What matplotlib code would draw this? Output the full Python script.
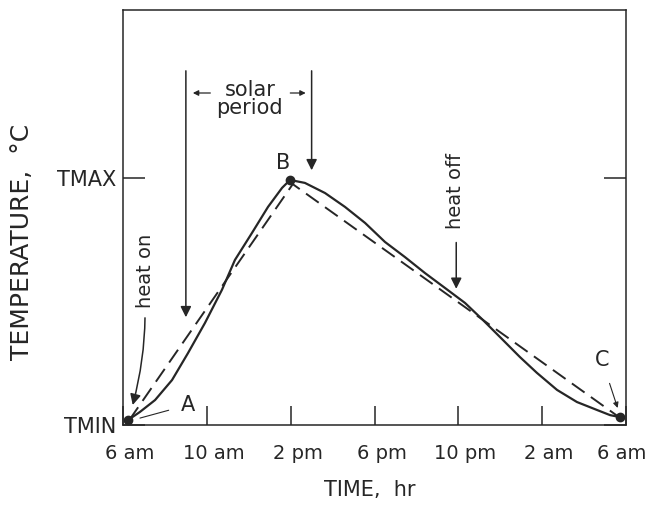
import numpy as np
import matplotlib
matplotlib.use("Agg")
import matplotlib.pyplot as plt
from matplotlib.transforms import ScaledTranslation

# data (hours after 6 am, temperature as fraction TMIN->TMAX)
solid_hr = [0.24, 0.81, 1.53, 2.34, 3.10, 3.91, 4.72, 5.34, 6.15, 6.92, 7.59, 7.97,
            8.68, 9.64, 10.59, 11.55, 12.50, 13.45, 14.41, 15.36, 16.32, 17.15,
            18.13, 18.94, 19.75, 20.71, 21.66, 22.61, 23.24, 23.71]
solid_t = [0.02, 0.053, 0.101, 0.182, 0.291, 0.413, 0.547, 0.668, 0.777, 0.883, 0.960, 0.992,
           0.980, 0.939, 0.883, 0.818, 0.741, 0.680, 0.615, 0.555, 0.494, 0.427,
           0.344, 0.275, 0.211, 0.142, 0.093, 0.061, 0.040, 0.032]
dash_hr = [0.3, 8.1, 23.7]
dash_t = [0.02, 0.975, 0.03]
pts_hr = [0.24, 7.97, 23.71]
pts_t = [0.02, 0.992, 0.032]
xtick_pos = [0, 4, 8, 12, 16, 20, 24]
xtick_lab = ["6 am", "10 am", "2 pm", "6 pm", "10 pm", "2 am", "6 am"]
ytick_pos = [0, 1]
ytick_lab = ["TMIN", "TMAX"]

ink = "#262626"
plt.rcParams["font.family"] = "DejaVu Sans"

fig = plt.figure(figsize=(6.52, 5.12), dpi=100)
ax = fig.add_axes([123 / 652, 1 - 425 / 512, 503 / 652, 415 / 512])

ax.plot(solid_hr, solid_t, color=ink, lw=1.6)
ax.plot(dash_hr, dash_t, color=ink, lw=1.4, dashes=(8, 4))
ax.plot(pts_hr, pts_t, "o", color=ink, ms=6, ls="none")

ax.set_xlim(0, 24)
ax.set_ylim(0, 1.68)

ax.set_xticks(xtick_pos)
ax.set_xticklabels(xtick_lab)
ax.set_yticks(ytick_pos)
ax.set_yticklabels(ytick_lab)
ax.tick_params(axis="x", direction="in", length=14, width=1.1, color=ink,
               labelsize=14, labelcolor=ink, pad=14)
ax.tick_params(axis="y", direction="in", length=16, width=1.1, color=ink,
               labelsize=15, labelcolor=ink, pad=5, right=True)
for i, lab in enumerate(ax.get_xticklabels()):
    dx = -4 if i == len(xtick_lab) - 1 else 7
    lab.set_transform(lab.get_transform() + ScaledTranslation(dx / 100, 0, fig.dpi_scale_trans))

for s in ax.spines.values():
    s.set_color(ink)
    s.set_linewidth(1.1)

ax.set_xlabel("TIME,  hr", fontsize=15, color=ink)
ax.xaxis.set_label_coords(0.491, -0.157)
ax.xaxis.label.set_va("center")
ax.set_ylabel("TEMPERATURE,  °C", fontsize=18, color=ink)
ax.yaxis.set_label_coords(-0.2, 0.44)
ax.yaxis.label.set_va("center")

arr = dict(arrowstyle="-|>", color=ink, lw=1.1, mutation_scale=16)

# solar period
ax.annotate("", xy=(3.0, 0.425), xytext=(3.0, 1.445), arrowprops=arr)
ax.annotate("", xy=(9.0, 1.02), xytext=(9.0, 1.445), arrowprops=arr)
ax.annotate("", xy=(3.2, 1.344), xytext=(4.3, 1.344),
            arrowprops=dict(arrowstyle="-|>", color=ink, lw=0.9, mutation_scale=8))
ax.annotate("", xy=(8.85, 1.344), xytext=(7.85, 1.344),
            arrowprops=dict(arrowstyle="-|>", color=ink, lw=0.9, mutation_scale=8))
ax.text(6.05, 1.356, "solar", fontsize=15, color=ink, ha="center", va="center")
ax.text(6.05, 1.283, "period", fontsize=15, color=ink, ha="center", va="center")

# heat on / heat off
ax.text(1.05, 0.623, "heat on", fontsize=14, color=ink, rotation=90,
        ha="center", va="center")
ax.annotate("", xy=(0.43, 0.07), xytext=(1.05, 0.445),
            arrowprops=dict(arrowstyle="-|>", color=ink, lw=1.1, mutation_scale=16,
                            connectionstyle="angle3,angleA=90,angleB=75"))
ax.text(15.85, 0.947, "heat off", fontsize=14, color=ink, rotation=90,
        ha="center", va="center")
ax.annotate("", xy=(15.9, 0.54), xytext=(15.9, 0.75), arrowprops=arr)

# point labels
ax.annotate("A", xy=(0.81, 0.028), xytext=(3.1, 0.081), fontsize=15, color=ink,
            ha="center", va="center",
            arrowprops=dict(arrowstyle="-", color=ink, lw=0.8, shrinkA=7, shrinkB=0))
ax.text(7.63, 1.06, "B", fontsize=15, color=ink, ha="center", va="center")
ax.annotate("C", xy=(23.6, 0.069), xytext=(22.85, 0.263), fontsize=15, color=ink,
            ha="center", va="center",
            arrowprops=dict(arrowstyle="-|>", color=ink, lw=0.8, mutation_scale=8,
                            shrinkA=8, shrinkB=0))

fig.savefig("out.png", dpi=100)
